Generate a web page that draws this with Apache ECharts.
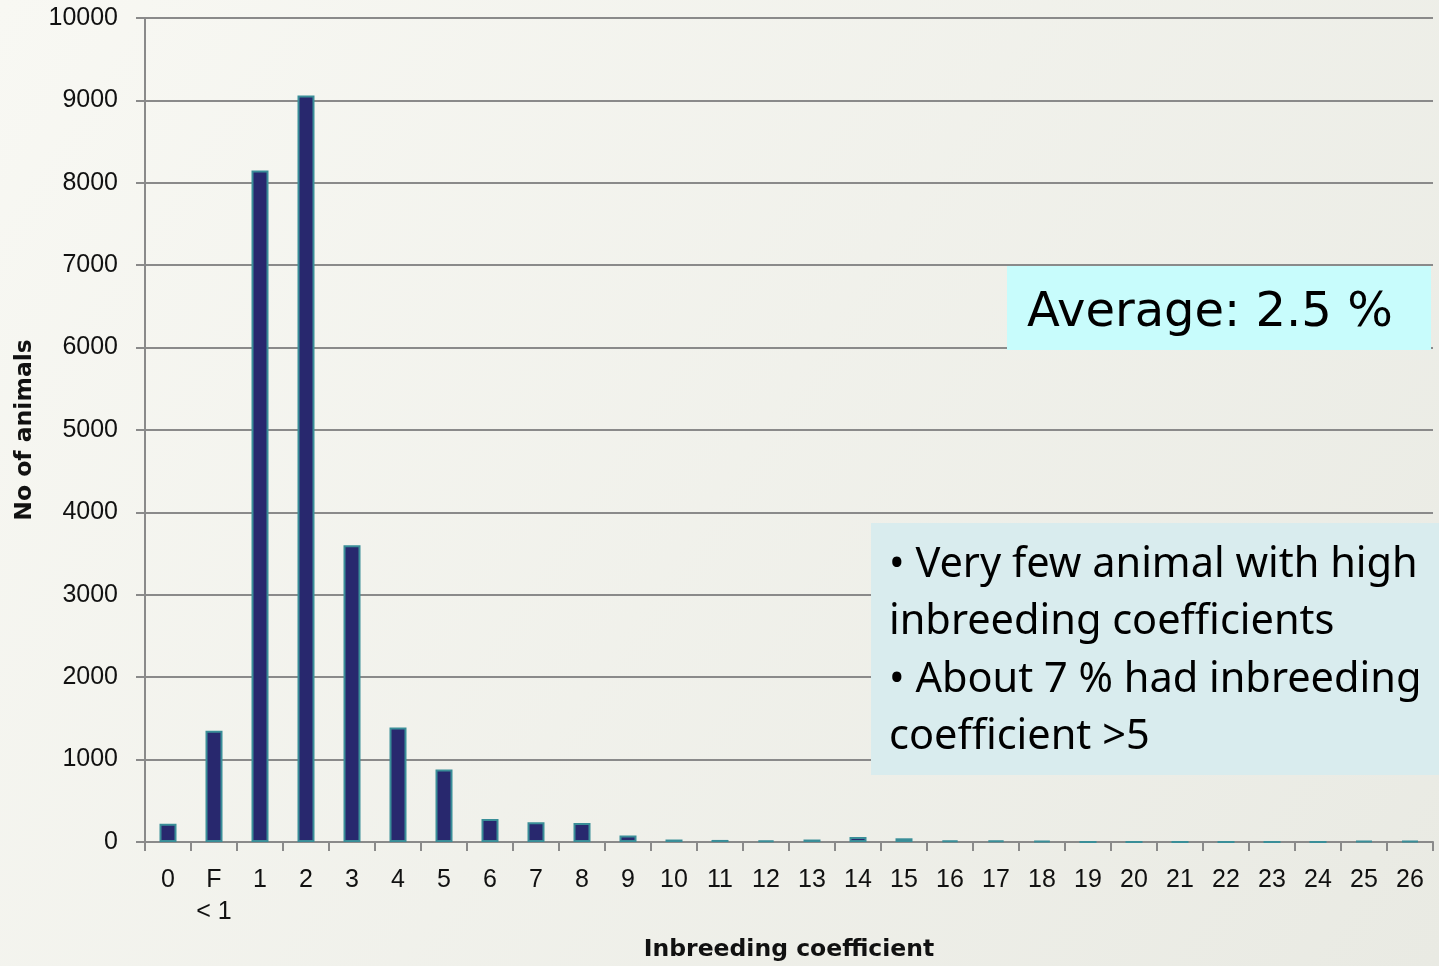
<!DOCTYPE html>
<html>
<head>
<meta charset="utf-8">
<script src="https://cdn.jsdelivr.net/npm/echarts@6/dist/echarts.min.js"></script>
<style>
  html, body { margin: 0; padding: 0; }
  #main { width: 1439px; height: 966px; }
</style>
</head>
<body>
<div id="main"></div>
<script>
// categories: inbreeding coefficient classes
var categories = ['0', 'F\n< 1', '1', '2', '3', '4', '5', '6', '7', '8', '9', '10', '11', '12', '13',
  '14', '15', '16', '17', '18', '19', '20', '21', '22', '23', '24', '25', '26'];
// number of animals per class
var animals = [220, 1350, 8150, 9060, 3600, 1390, 880, 280, 240, 230, 80, 30, 25, 20, 30,
  60, 45, 20, 20, 15, 0, 0, 0, 0, 0, 0, 12, 12];
var yTicks = [0, 10000, 1000]; // min, max, step

var myChart = echarts.init(document.getElementById('main'));
myChart.setOption({
  animation: false,
  backgroundColor: {
    type: 'linear', x: 0, y: 0, x2: 1, y2: 1,
    colorStops: [
      { offset: 0, color: '#f8f8f3' },
      { offset: 1, color: '#e9eae3' }
    ]
  },
  grid: { left: 145, right: 6, top: 18, bottom: 124, outerBoundsMode: 'none', containLabel: false },
  xAxis: {
    type: 'category',
    data: categories,
    name: 'Inbreeding coefficient',
    nameLocation: 'middle',
    nameGap: 96,
    nameTextStyle: { fontFamily: 'DejaVu Sans', fontWeight: 'bold', fontSize: 23.5, color: '#111' },
    axisLine: { lineStyle: { color: '#8a8a8a', width: 2 } },
    axisTick: { show: true, length: 9, lineStyle: { color: '#8a8a8a', width: 2 } },
    axisLabel: {
      interval: 0, margin: 22, fontFamily: 'Liberation Sans', fontSize: 25,
      color: '#111', lineHeight: 32
    }
  },
  yAxis: {
    type: 'value',
    min: yTicks[0], max: yTicks[1], interval: yTicks[2],
    name: 'No of animals',
    nameLocation: 'middle',
    nameGap: 108,
    nameTextStyle: { fontFamily: 'DejaVu Sans', fontWeight: 'bold', fontSize: 23.5, color: '#111' },
    axisLine: { show: true, lineStyle: { color: '#8a8a8a', width: 2 } },
    axisTick: { show: true, length: 9, lineStyle: { color: '#8a8a8a', width: 2 } },
    axisLabel: {
      margin: 27, fontFamily: 'Liberation Sans', fontSize: 25, color: '#111',
      formatter: function (v) { return String(v); }
    },
    splitLine: { lineStyle: { color: '#8a8a8a', width: 2 } }
  },
  series: [{
    type: 'bar',
    data: animals,
    barWidth: 17,
    itemStyle: { color: '#28286e', borderColor: '#3a8e98', borderWidth: 2 }
  }],
  graphic: [
    {
      type: 'rect',
      shape: { x: 1007, y: 266, width: 424, height: 84 },
      style: { fill: '#c8fcfc' },
      z: 10
    },
    {
      type: 'text',
      x: 1027, y: 314,
      style: {
        text: 'Average: 2.5 %',
        fontFamily: 'DejaVu Sans', fontSize: 48, fill: '#000',
        textVerticalAlign: 'middle'
      },
      z: 11
    },
    {
      type: 'rect',
      shape: { x: 871, y: 523, width: 568, height: 252 },
      style: { fill: '#d9ecee' },
      z: 10
    },
    {
      type: 'text',
      x: 889, y: 536,
      style: {
        text: '• Very few animal with high\ninbreeding coefficients\n• About 7 % had inbreeding\ncoefficient >5',
        fontFamily: 'Noto Sans', fontSize: 41.5, lineHeight: 57.5, fill: '#000',
        textVerticalAlign: 'top'
      },
      z: 11
    }
  ]
});
</script>
</body>
</html>
